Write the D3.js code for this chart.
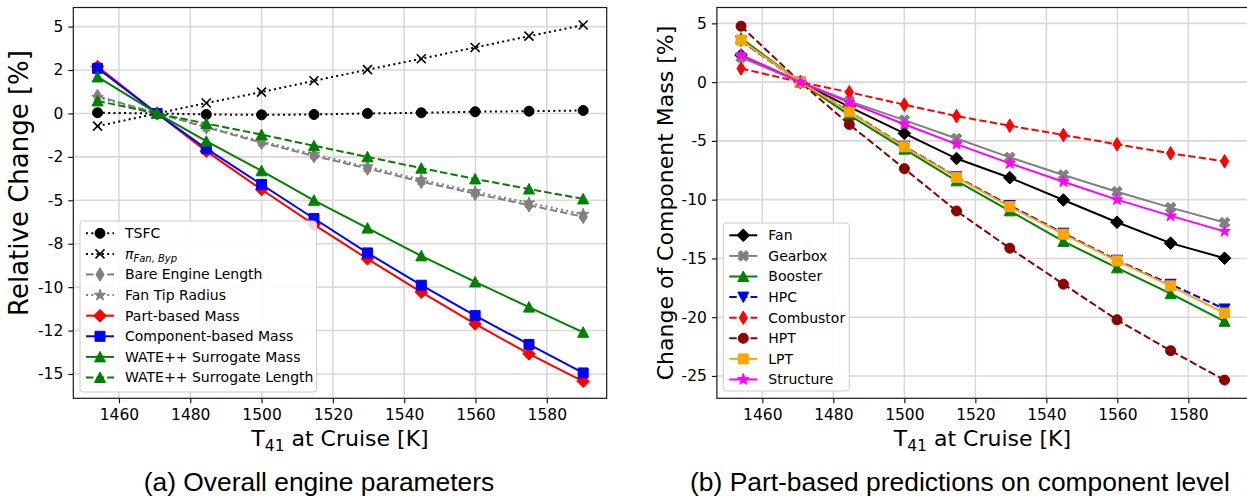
<!DOCTYPE html>
<html>
<head>
<meta charset="utf-8">
<script src="https://cdn.jsdelivr.net/npm/d3@7"></script>
<style>
  body { margin: 0; background: #fff; }
  text { font-family: "DejaVu Sans", sans-serif; fill: #000; }
</style>
</head>
<body>
<svg id="chart" width="1247" height="504"></svg>
<script>
// T41 at cruise [K]
const temps = [1454, 1470.7, 1484.5, 1500, 1514.7, 1529.7, 1544.8, 1559.9, 1575, 1590.2];
const xTicks = [1460, 1480, 1500, 1520, 1540, 1560, 1580];

// (a) overall engine parameters, relative change [%]
const tsfc = [0.04, 0, -0.06, -0.08, -0.06, 0, 0.04, 0.1, 0.13, 0.17];
const piFanByp = [-0.73, 0, 0.6, 1.23, 1.88, 2.52, 3.15, 3.8, 4.45, 5.09];
const bareEngineLength = [1.0, 0, -0.8, -1.68, -2.45, -3.17, -3.93, -4.62, -5.28, -5.95];
const fanTipRadius = [0.92, 0, -0.76, -1.6, -2.35, -3.07, -3.82, -4.5, -5.15, -5.8];
const partMass = [2.7, 0, -2.17, -4.38, -6.4, -8.37, -10.29, -12.12, -13.84, -15.42];
const compMass = [2.6, 0, -2.03, -4.09, -6.05, -8.03, -9.89, -11.64, -13.3, -14.94];
const wateMass = [2.1, 0, -1.6, -3.3, -5.0, -6.6, -8.2, -9.7, -11.15, -12.6];
const wateLength = [0.72, 0, -0.58, -1.22, -1.86, -2.5, -3.15, -3.77, -4.35, -4.92];
const yTicksA = [5, 2.5, 0, -2.5, -5, -7.5, -10, -12.5, -15];
const yTickLabelsA = ["5", "2", "0", "-2", "-5", "-8", "-10", "-12", "-15"];

// (b) component masses, change [%]
const fan = [2.3, 0, -2.1, -4.36, -6.5, -8.13, -10.03, -11.92, -13.7, -14.98];
const gearbox = [2.1, 0, -1.62, -3.23, -4.8, -6.4, -7.9, -9.32, -10.68, -11.95];
const booster = [3.75, 0, -2.8, -5.7, -8.4, -10.95, -13.55, -15.8, -18.0, -20.35];
const hpc = [3.5, 0, -2.5, -5.45, -8.05, -10.5, -12.85, -15.15, -17.2, -19.3];
const combustor = [1.16, 0, -0.86, -1.92, -2.89, -3.71, -4.5, -5.29, -6.06, -6.74];
const hpt = [4.76, 0, -3.6, -7.36, -10.96, -14.13, -17.19, -20.22, -22.85, -25.35];
const lpt = [3.57, 0, -2.52, -5.5, -8.1, -10.59, -12.94, -15.21, -17.33, -19.65];
const structure = [2.3, 0, -1.73, -3.58, -5.27, -6.91, -8.47, -10.0, -11.38, -12.7];
const yTicksB = [5, 0, -5, -10, -15, -20, -25];
const yTickLabelsB = ["5", "0", "-5", "-10", "-15", "-20", "-25"];

const DASHED = "7.4,3.2", DOTTED = "2,3.3";

const seriesA = [
  { label: "TSFC", values: tsfc, color: "#000", dash: DOTTED, marker: "o" },
  { label: "pi", values: piFanByp, color: "#000", dash: DOTTED, marker: "x" },
  { label: "Bare Engine Length", values: bareEngineLength, color: "grey", dash: DASHED, marker: "d" },
  { label: "Fan Tip Radius", values: fanTipRadius, color: "grey", dash: DOTTED, marker: "*" },
  { label: "Part-based Mass", values: partMass, color: "#ff0000", dash: null, marker: "D" },
  { label: "Component-based Mass", values: compMass, color: "#0000ff", dash: null, marker: "s" },
  { label: "WATE++ Surrogate Mass", values: wateMass, color: "green", dash: null, marker: "^" },
  { label: "WATE++ Surrogate Length", values: wateLength, color: "green", dash: DASHED, marker: "^" }
];

const seriesB = [
  { label: "Fan", values: fan, color: "#000", dash: null, marker: "D" },
  { label: "Gearbox", values: gearbox, color: "grey", dash: null, marker: "X" },
  { label: "Booster", values: booster, color: "green", dash: null, marker: "^" },
  { label: "HPC", values: hpc, color: "#0000ff", dash: DASHED, marker: "v" },
  { label: "Combustor", values: combustor, color: "#ff0000", dash: DASHED, marker: "d" },
  { label: "HPT", values: hpt, color: "#8b0000", dash: DASHED, marker: "o" },
  { label: "LPT", values: lpt, color: "orange", dash: null, marker: "s" },
  { label: "Structure", values: structure, color: "#ff00ff", dash: null, marker: "*" }
];

function markerPath(type) {
  const h = 5;
  if (type === "o") return d3.symbol(d3.symbolCircle, Math.PI * h * h)();
  if (type === "s") return `M${-h},${-h}H${h}V${h}H${-h}Z`;
  if (type === "D") { const r = 6.3; return `M0,${-r}L${r},0L0,${r}L${-r},0Z`; }
  if (type === "d") { const r = 6.8, w = 4.1; return `M0,${-r}L${w},0L0,${r}L${-w},0Z`; }
  if (type === "^") return `M0,${-h - 0.5}L${h + 0.5},${h}L${-h - 0.5},${h}Z`;
  if (type === "v") return `M0,${h + 0.5}L${h + 0.5},${-h}L${-h - 0.5},${-h}Z`;
  if (type === "x") return `M${-4.5},${-4.5}L4.5,4.5M-4.5,4.5L4.5,-4.5`;
  if (type === "*") {
    const pts = d3.range(10).map(i => {
      const r = i % 2 ? 2.4 : 6;
      const a = -Math.PI / 2 + i * Math.PI / 5;
      return [r * Math.cos(a), r * Math.sin(a)];
    });
    return "M" + pts.join("L") + "Z";
  }
  if (type === "X") {
    const t = 1.9, l = 5.6;
    const plus = [[-t,-l],[t,-l],[t,-t],[l,-t],[l,t],[t,t],[t,l],[-t,l],[-t,t],[-l,t],[-l,-t],[-t,-t]];
    const c = Math.SQRT1_2;
    return "M" + plus.map(([px, py]) => [c * (px - py), c * (px + py)]).join("L") + "Z";
  }
}

function drawMarker(sel, s) {
  sel.append("path")
    .attr("d", markerPath(s.marker))
    .attr("fill", s.marker === "x" ? "none" : s.color)
    .attr("stroke", s.color)
    .attr("stroke-width", s.marker === "x" ? 1.6 : 1)
    .attr("stroke-linejoin", "miter");
}

const svg = d3.select("#chart");

function drawPanel(p) {
  const x = d3.scaleLinear().domain([1447.2, 1596.8]).range([p.left, p.right]);
  const y = d3.scaleLinear().domain(p.yDomain).range([p.bottom, p.top]);
  const g = svg.append("g");

  // grid
  g.append("g").selectAll("line").data(xTicks).enter().append("line")
    .attr("x1", d => x(d)).attr("x2", d => x(d))
    .attr("y1", p.top).attr("y2", p.bottom)
    .attr("stroke", "#d9d9d9").attr("stroke-width", 1.6);
  g.append("g").selectAll("line").data(p.yTicks).enter().append("line")
    .attr("x1", p.left).attr("x2", p.right)
    .attr("y1", d => y(d)).attr("y2", d => y(d))
    .attr("stroke", "#d9d9d9").attr("stroke-width", 1.6);

  // series
  const line = d3.line().x((d, i) => x(temps[i])).y(d => y(d));
  p.series.forEach(s => {
    const sg = g.append("g");
    sg.append("path")
      .attr("d", line(s.values))
      .attr("fill", "none")
      .attr("stroke", s.color)
      .attr("stroke-width", 2)
      .attr("stroke-dasharray", s.dash);
    sg.selectAll("g").data(s.values).enter().append("g")
      .attr("transform", (d, i) => `translate(${x(temps[i])},${y(d)})`)
      .each(function() { drawMarker(d3.select(this), s); });
  });

  // frame
  g.append("rect")
    .attr("x", p.left).attr("y", p.top)
    .attr("width", p.right - p.left).attr("height", p.bottom - p.top)
    .attr("fill", "none").attr("stroke", "#1a1a1a").attr("stroke-width", 1.2);

  // axes
  const xAxis = g.append("g")
    .attr("transform", `translate(0,${p.bottom})`)
    .call(d3.axisBottom(x).tickValues(xTicks).tickSize(5).tickPadding(6).tickFormat(d3.format("d")));
  const yAxis = g.append("g")
    .attr("transform", `translate(${p.left},0)`)
    .call(d3.axisLeft(y).tickValues(p.yTicks).tickSize(5).tickPadding(5)
      .tickFormat((d, i) => p.yTickLabels[i]));
  [xAxis, yAxis].forEach(a => {
    a.select(".domain").remove();
    a.selectAll(".tick line").attr("stroke", "#1a1a1a").attr("stroke-width", 1.2);
    a.selectAll(".tick text")
      .style("font-family", "DejaVu Sans")
      .style("font-size", "15.5px")
      .attr("fill", "#000");
  });

  // x label
  const xl = g.append("text")
    .attr("x", (p.left + p.right) / 2)
    .attr("y", 446)
    .attr("text-anchor", "middle")
    .style("font-size", "22px");
  xl.append("tspan").text("T");
  xl.append("tspan").attr("dy", 5).style("font-size", "15.5px").text("41");
  xl.append("tspan").attr("dy", -5).text(" at Cruise [K]");

  // y label
  g.append("text")
    .attr("transform", `translate(${p.yLabelX},${p.yLabelY}) rotate(-90)`)
    .attr("text-anchor", "middle")
    .style("font-size", p.yLabelSize)
    .text(p.yLabel);

  // legend
  const lg = g.append("g");
  lg.append("rect")
    .attr("x", p.legend.x).attr("y", p.legend.y)
    .attr("width", p.legend.w).attr("height", p.legend.h)
    .attr("rx", 3)
    .attr("fill", "#fff").attr("fill-opacity", 0.85)
    .attr("stroke", "#cccccc").attr("stroke-width", 1);
  p.series.forEach((s, i) => {
    const cy = p.legend.y + 12.3 + i * 20.6;
    const hx = p.legend.x + 6;
    lg.append("line")
      .attr("x1", hx).attr("x2", hx + 28)
      .attr("y1", cy).attr("y2", cy)
      .attr("stroke", s.color).attr("stroke-width", 2)
      .attr("stroke-dasharray", s.dash);
    drawMarker(lg.append("g").attr("transform", `translate(${hx + 14},${cy})`), s);
    const t = lg.append("text")
      .attr("x", p.legend.x + 45)
      .attr("y", cy)
      .attr("dy", "0.35em")
      .style("font-size", "14px");
    if (s.label === "pi") {
      t.append("tspan").style("font-style", "italic").text("π");
      t.append("tspan").attr("dy", 3).style("font-style", "italic").style("font-size", "10px").text("Fan, Byp");
    } else {
      t.text(s.label);
    }
  });

  // caption
  svg.append("text")
    .attr("x", p.captionX)
    .attr("y", 491)
    .attr("text-anchor", "middle")
    .style("font-family", "Liberation Sans, Arial, sans-serif")
    .style("font-size", "26.4px")
    .text(p.caption);
}

drawPanel({
  left: 73.3, right: 606.7, top: 7.5, bottom: 398.3,
  yDomain: [-16.4, 6.1], yTicks: yTicksA, yTickLabels: yTickLabelsA,
  series: seriesA,
  yLabel: "Relative Change [%]", yLabelX: 28, yLabelY: 183, yLabelSize: "26px",
  legend: { x: 80, y: 221, w: 236.5, h: 171 },
  caption: "(a) Overall engine parameters", captionX: 319
});

drawPanel({
  left: 716.9, right: 1248, top: 7.5, bottom: 398.3,
  yDomain: [-26.9, 6.35], yTicks: yTicksB, yTickLabels: yTickLabelsB,
  series: seriesB,
  yLabel: "Change of Component Mass [%]", yLabelX: 673, yLabelY: 203, yLabelSize: "22px",
  legend: { x: 723.3, y: 223, w: 126, h: 168 },
  caption: "(b) Part-based predictions on component level", captionX: 960
});
</script>
</body>
</html>
